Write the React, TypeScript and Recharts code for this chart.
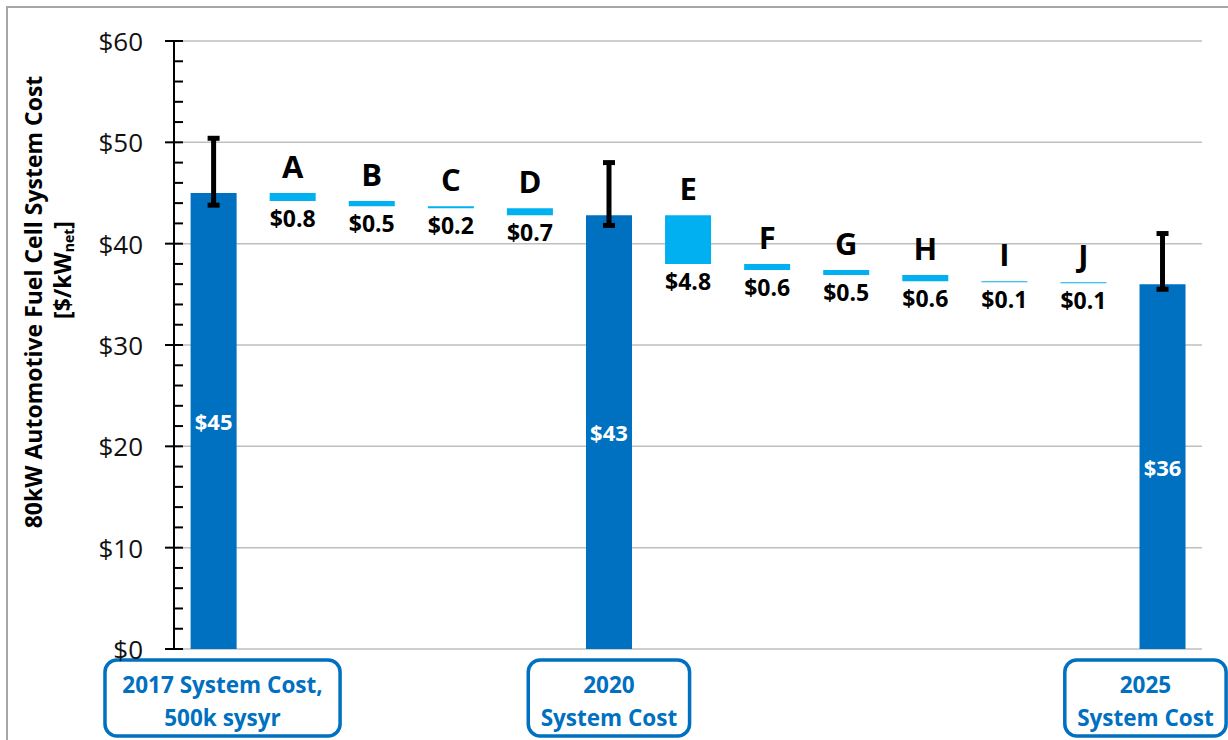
import { Bar, BarChart, CartesianGrid, ErrorBar, LabelList, XAxis, YAxis } from "recharts";

// waterfall steps between the three system cost totals ($/kWnet)
const categories = ["2017", "A", "B", "C", "D", "2020", "E", "F", "G", "H", "I", "J", "2025"];
const totalCosts = [45, null, null, null, null, 42.8, null, null, null, null, null, null, 36];
const stepSavings = [null, 0.8, 0.5, 0.2, 0.7, null, 4.8, 0.6, 0.5, 0.6, 0.1, 0.1, null];
const errorMinus = [1.2, null, null, null, null, 1.0, null, null, null, null, null, null, 0.5];
const errorPlus = [5.4, null, null, null, null, 5.2, null, null, null, null, null, null, 5.0];
const totalCaptions = [
  ["2017 System Cost,", "500k sysyr"],
  null, null, null, null,
  ["2020", "System Cost"],
  null, null, null, null, null, null,
  ["2025", "System Cost"]
];
const yTicks = [0, 10, 20, 30, 40, 50, 60];
const yMinorTicks = [0, 2, 4, 6, 8, 10, 12, 14, 16, 18, 20, 22, 24, 26, 28, 30, 32, 34, 36, 38, 40, 42, 44, 46, 48, 50, 52, 54, 56, 58, 60];

const FONT = "'Open Sans', sans-serif";
const DARK = "#0070C0";
const LIGHT = "#00B0F0";
const captionShift: Record<string, number> = { "2017": 9, "2025": -17 };

let running = 0;
const rows = categories.map((name, i) => {
  const total = totalCosts[i];
  if (total != null) {
    running = total;
    return { name, base: 0, total, step: null, err: [errorMinus[i], errorPlus[i]] };
  }
  const d = stepSavings[i] as number;
  running = running - d;
  return { name, base: running, total: null, step: d, err: null };
});

function YTick(props: any) {
  const { x, y, payload } = props;
  const major = payload.value % 10 === 0;
  return (
    <g>
      <line x1={major ? x - 9 : x} x2={x + 9} y1={y} y2={y} stroke="#000" strokeWidth={2} />
      {major && (
        <text x={x - 31} y={y} textAnchor="end" dominantBaseline="central" fontFamily={FONT} fontSize={26} fill="#111">
          ${payload.value}
        </text>
      )}
    </g>
  );
}

function CaptionTick(props: any) {
  const { x, y, payload } = props;
  const i = categories.indexOf(payload.value);
  const lines = totalCaptions[i];
  if (!lines) return null;
  const longest = Math.max(...lines.map((l) => l.length));
  const w = longest * 12.3 + 26;
  const cx = x + (captionShift[payload.value] ?? 0);
  return (
    <g>
      <rect x={cx - w / 2} y={y + 11} width={w} height={76} rx={12} fill="#fff" stroke={DARK} strokeWidth={3.5} />
      <text x={cx} y={y + 44} textAnchor="middle" fontFamily={FONT} fontWeight="bold" fontSize={22.5} fill={DARK}>
        {lines[0]}
      </text>
      <text x={cx} y={y + 77} textAnchor="middle" fontFamily={FONT} fontWeight="bold" fontSize={22.5} fill={DARK}>
        {lines[1]}
      </text>
    </g>
  );
}

// LabelList value is the category name, so look values up by name
function StepLabel(props: any) {
  const vb = props.viewBox ?? props;
  const i = categories.indexOf(props.value);
  const v = stepSavings[i];
  if (v == null) return null;
  const cx = vb.x + vb.width / 2;
  return (
    <g fontFamily={FONT} fontWeight="bold" textAnchor="middle" fill="#000">
      <text x={cx} y={vb.y - 15} fontSize={31}>
        {categories[i]}
      </text>
      <text x={cx} y={vb.y + vb.height + 26} fontSize={23}>
        ${v.toFixed(1)}
      </text>
    </g>
  );
}

function TotalLabel(props: any) {
  const vb = props.viewBox ?? props;
  const v = totalCosts[categories.indexOf(props.value)];
  if (v == null) return null;
  return (
    <text
      x={vb.x + vb.width / 2}
      y={vb.y + vb.height / 2}
      textAnchor="middle"
      dominantBaseline="central"
      fontFamily={FONT}
      fontWeight="bold"
      fontSize={22}
      fill="#fff"
    >
      ${Math.round(v)}
    </text>
  );
}

function AxisTitle() {
  return (
    <g fontFamily={FONT} fontWeight="bold" fill="#000" textAnchor="middle">
      <text x={33} y={302} fontSize={23} dominantBaseline="central" transform="rotate(-90, 33, 302)">
        80kW Automotive Fuel Cell System Cost
      </text>
      <text x={62} y={270} fontSize={23} dominantBaseline="central" transform="rotate(-90, 62, 270)">
        [$/kW
        <tspan fontSize={14} dy={6}>net</tspan>
        <tspan dy={-6}>]</tspan>
      </text>
    </g>
  );
}

export default function App() {
  return (
    <div style={{ position: "absolute", left: 0, top: 0, width: 1228, height: 740, background: "#fff", overflow: "hidden", fontFamily: FONT }}>
      <div
        style={{
          position: "absolute",
          left: 6,
          top: 6,
          width: 1300,
          height: 800,
          borderLeft: "2px solid #a6a6a6",
          borderTop: "2px solid #a6a6a6"
        }}
      />
      <div style={{ position: "absolute", left: 0, top: 0 }}>
        <BarChart
          width={1228}
          height={740}
          data={rows}
          margin={{ top: 41, right: 26, bottom: 11, left: 74 }}
          barCategoryGap="21%"
        >
          <CartesianGrid vertical={false} horizontalValues={yTicks} stroke="#bfbfbf" strokeWidth={1.5} />
          <XAxis
            dataKey="name"
            axisLine={false}
            tickLine={false}
            tickSize={0}
            tickMargin={0}
            interval={0}
            height={80}
            tick={<CaptionTick />}
          />
          <YAxis
            domain={[0, 60]}
            ticks={yMinorTicks}
            interval={0}
            width={100}
            axisLine={{ stroke: "#000", strokeWidth: 2 }}
            tickLine={false}
            tickSize={0}
            tickMargin={0}
            tick={<YTick />}
            label={<AxisTitle />}
          />
          <Bar dataKey="base" stackId="w" fill="transparent" isAnimationActive={false} />
          <Bar dataKey="total" stackId="w" fill={DARK} isAnimationActive={false}>
            <ErrorBar dataKey="err" width={6} strokeWidth={5} stroke="#000" direction="y" />
            <LabelList dataKey="name" content={<TotalLabel />} />
          </Bar>
          <Bar dataKey="step" stackId="w" fill={LIGHT} isAnimationActive={false}>
            <LabelList dataKey="name" content={<StepLabel />} />
          </Bar>
        </BarChart>
      </div>
    </div>
  );
}
